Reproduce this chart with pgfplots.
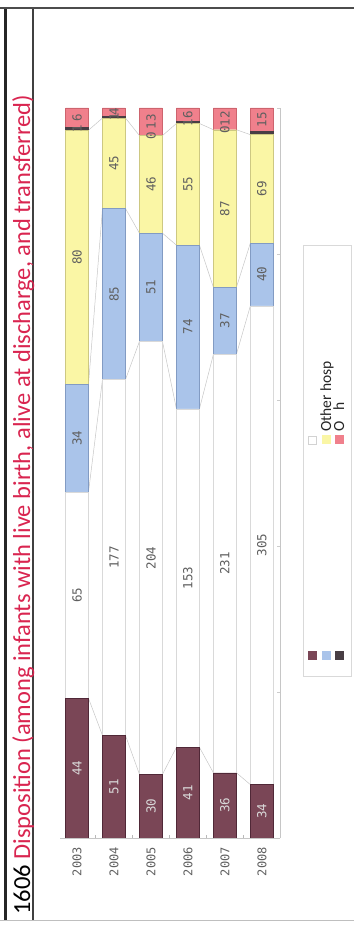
\documentclass[border=0pt]{standalone}
\usepackage{pgfplots}
\pgfplotsset{compat=1.18}
\usepackage{pgfplotstable}
\usepackage{fontspec}
\setmainfont{Carlito}
\newfontfamily\mono{DejaVu Sans Mono}
\definecolor{cMar}{RGB}{122,70,86}
\definecolor{cMarD}{RGB}{80,40,55}
\definecolor{cBlu}{RGB}{170,196,234}
\definecolor{cBluD}{RGB}{130,155,195}
\definecolor{cYel}{RGB}{250,246,165}
\definecolor{cYelD}{RGB}{205,200,130}
\definecolor{cGry}{RGB}{72,62,68}
\definecolor{cRed}{RGB}{240,128,140}
\definecolor{cRedD}{RGB}{205,100,110}
\definecolor{cTitle}{RGB}{217,37,80}
\definecolor{cLab}{RGB}{95,95,95}

% year, percent of year total, count, middle of segment (percent)
\pgfplotstableread{
year pct n mid
2003 19.130 44 9.565
2004 14.050 51 7.025
2005 8.721 30 4.361
2006 12.424 41 6.212
2007 8.933 36 4.467
2008 7.312 34 3.656
}\tMar
\pgfplotstableread{
year pct n mid
2003 28.261 65 33.261
2004 48.760 177 38.430
2005 59.302 204 38.372
2006 46.364 153 35.606
2007 57.320 231 37.593
2008 65.591 305 40.108
}\tWhi
\pgfplotstableread{
year pct n mid
2003 14.783 34 54.783
2004 23.416 85 74.518
2005 14.826 51 75.436
2006 22.424 74 70.000
2007 9.181 37 70.844
2008 8.602 40 77.204
}\tBlu
\pgfplotstableread{
year pct n mid
2003 34.783 80 79.566
2004 12.397 45 92.425
2005 13.372 46 89.535
2006 16.667 55 89.546
2007 21.588 87 86.228
2008 14.839 69 88.925
}\tYel
\pgfplotstableread{
year pct n mid
2003 0.435 1 97.175
2004 0.275 1 98.761
2005 0 0 96.221
2006 0.303 1 98.031
2007 0 0 97.022
2008 0.430 2 96.559
}\tGry
\pgfplotstableread{
year pct n mid
2003 2.609 6 98.696
2004 1.102 4 99.449
2005 3.779 13 98.111
2006 1.818 6 99.091
2007 2.978 12 98.511
2008 3.226 15 98.387
}\tRed

\pgfplotsset{base/.style={at={(60pt,88pt)},anchor=south west,scale only axis,width=220pt,height=730pt,
  xmin=2002.54,xmax=2008.49,ymin=0,ymax=100}}

\begin{document}
\begin{tikzpicture}[x=1pt,y=1pt]
\path[use as bounding box] (0,0) rectangle (354,926);
% frame
\draw[line width=3pt,black!85] (5.5,6) -- (5.5,918);
\draw[line width=1.6pt,black!75] (33,6) -- (33,918);
\draw[line width=1.8pt,black!70] (0,918) -- (354,918);
\draw[line width=0.6pt,black!25] (0,6) -- (354,6);
\node[rotate=90,anchor=base west,inner sep=0pt,font=\fontsize{24.5}{28}\selectfont] at (30,11) {1606 \textcolor{cTitle}{Disposition (among infants with live birth, alive at discharge, and transferred)}};

% connector lines (behind bars)
\begin{axis}[base,axis lines=none]
\addplot[gray!45,line width=0.5pt] coordinates {(2003,19.130)(2003.311,19.130)(2003.689,14.050)(2004.311,14.050)(2004.689,8.721)(2005.311,8.721)(2005.689,12.424)(2006.311,12.424)(2006.689,8.933)(2007.311,8.933)(2007.689,7.312)(2008,7.312)};
\addplot[gray!45,line width=0.5pt] coordinates {(2003,47.391)(2003.311,47.391)(2003.689,62.810)(2004.311,62.810)(2004.689,68.023)(2005.311,68.023)(2005.689,58.788)(2006.311,58.788)(2006.689,66.253)(2007.311,66.253)(2007.689,72.903)(2008,72.903)};
\addplot[gray!45,line width=0.5pt] coordinates {(2003,62.174)(2003.311,62.174)(2003.689,86.226)(2004.311,86.226)(2004.689,82.849)(2005.311,82.849)(2005.689,81.212)(2006.311,81.212)(2006.689,75.434)(2007.311,75.434)(2007.689,81.505)(2008,81.505)};
\addplot[gray!45,line width=0.5pt] coordinates {(2003,96.957)(2003.311,96.957)(2003.689,98.623)(2004.311,98.623)(2004.689,96.221)(2005.311,96.221)(2005.689,97.879)(2006.311,97.879)(2006.689,97.022)(2007.311,97.022)(2007.689,96.344)(2008,96.344)};
\end{axis}

% stacked bars
\begin{axis}[base,
  ybar stacked,bar width=23pt,
  axis x line*=bottom, axis y line*=right,
  axis line style={gray!45,line width=0.6pt},
  ytick={0,20,40,60,80,100},yticklabels={},
  major tick length=3pt,
  y tick style={gray!40},
  xtick={2003,2004,2005,2006,2007,2008},
  xticklabels={2003,2004,2005,2006,2007,2008},
  x tick style={draw=none},
  minor xtick={2002.5,2003.5,2004.5,2005.5,2006.5,2007.5,2008.5},
  minor tick length=3pt,
  minor x tick style={draw=gray!55},
  xticklabel style={rotate=90,anchor=east,inner sep=0pt,font=\mono\fontsize{12}{14}\selectfont,text=cLab},
  xticklabel shift=9pt,
]
\addplot[fill=cMar,draw=cMarD,line width=0.4pt] table[x=year,y=pct] {\tMar};
\addplot[fill=white,draw=gray!30,line width=0.4pt] table[x=year,y=pct] {\tWhi};
\addplot[fill=cBlu,draw=cBluD,line width=0.4pt] table[x=year,y=pct] {\tBlu};
\addplot[fill=cYel,draw=cYelD,line width=0.4pt] table[x=year,y=pct] {\tYel};
\addplot[fill=cGry,draw=cGry,line width=0.4pt] table[x=year,y=pct] {\tGry};
\addplot[fill=cRed,draw=cRedD,line width=0.4pt] table[x=year,y=pct] {\tRed};
\end{axis}

% value labels
\begin{axis}[base,axis lines=none,
  nodes near coords,point meta=explicit symbolic,
  every node near coord/.style={rotate=90,anchor=center,inner sep=0pt,font=\mono\fontsize{12.5}{14}\selectfont,text=cLab}]
\addplot[only marks,mark=none,every node near coord/.append style={text=white!85!black}] table[x=year,y=mid,meta=n] {\tMar};
\addplot[only marks,mark=none] table[x=year,y=mid,meta=n] {\tWhi};
\addplot[only marks,mark=none] table[x=year,y=mid,meta=n] {\tBlu};
\addplot[only marks,mark=none] table[x=year,y=mid,meta=n] {\tYel};
\addplot[only marks,mark=none] coordinates {(2003,97.175)[1] (2004,98.761)[1] (2005,96.221)[0] (2006,98.031)[1] (2007,97.022)[0]};
\addplot[only marks,mark=none] table[x=year,y=mid,meta=n] {\tRed};
\end{axis}

% legend (rotated, as in the page)
\draw[gray!30,line width=0.6pt] (303,250) rectangle (351,681);
\fill[cMar] (308,266) rectangle (316.5,274.5);
\fill[cBlu] (322,266) rectangle (330.5,274.5);
\fill[cGry] (335,266) rectangle (343.5,274.5);
\filldraw[fill=white,draw=gray!35,line width=0.5pt] (308.5,482) rectangle (316.5,490);
\fill[cYel] (322,482) rectangle (330.5,490.5);
\fill[cRed] (335,482) rectangle (343.5,490.5);
\node[rotate=90,anchor=base west,inner sep=0pt,font=\fontsize{15.5}{17}\selectfont,text=black!85] at (331,494) {Other hosp};
\node[rotate=90,anchor=base west,inner sep=0pt,font=\fontsize{15.5}{17}\selectfont,text=black!85] at (344,494) {O\hspace{11pt}h};
\end{tikzpicture}
\end{document}
